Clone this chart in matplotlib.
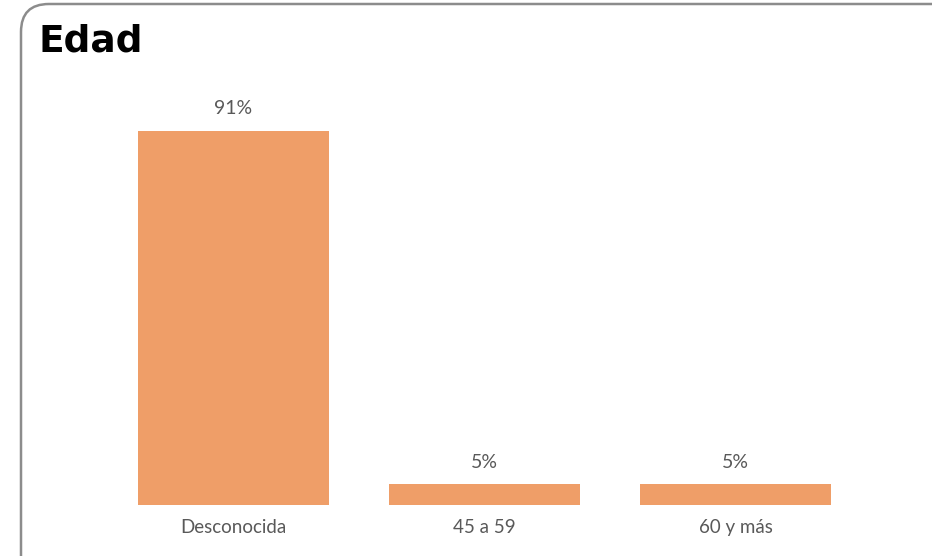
import matplotlib.pyplot as plt
from matplotlib.patches import FancyBboxPatch

##data
categorias = ["Desconocida", "45 a 59", "60 y más"]
valores = [91, 5, 5]
etiquetas = ["91%", "5%", "5%"]

plt.rcParams['font.family'] = ['Lato', 'DejaVu Sans']

fig = plt.figure(figsize=(9.32, 5.56), dpi=100)
W, H = 932, 556

##rounded frame (runs off right / bottom edge)
frame = FancyBboxPatch((21 / W, -40 / H), 960 / W, 592 / H,
                       boxstyle="round,pad=0,rounding_size=0.03",
                       transform=fig.transFigure, facecolor="none",
                       edgecolor="#8c8c8c", linewidth=1.8, zorder=-1,
                       mutation_aspect=W / H)
fig.patches.append(frame)

fig.text(39 / W, 1 - 41 / H, "Edad", fontsize=27, fontweight="heavy",
         color="black", va="center", ha="left", family=['DejaVu Sans'])

ax = fig.add_axes([108 / W, 51 / H, 753 / W, 411 / H])
ax.set_facecolor("none")
x = range(len(categorias))
bars = ax.bar(x, valores, width=0.76, color="#ef9e68")
for b, lab in zip(bars, etiquetas):
    ax.annotate(lab, (b.get_x() + b.get_width() / 2, b.get_height()),
                xytext=(0, 10), textcoords="offset points",
                ha="center", va="bottom", fontsize=14, color="#595959")
ax.set_xlim(-0.5, 2.5)
ax.set_ylim(0, 100)
ax.set_xticks(list(x))
ax.set_xticklabels(categorias, fontsize=13.5, color="#595959")
ax.tick_params(axis="x", length=0, pad=10)
ax.set_yticks([])
for s in ax.spines.values():
    s.set_visible(False)

plt.savefig("out.png", dpi=100)
